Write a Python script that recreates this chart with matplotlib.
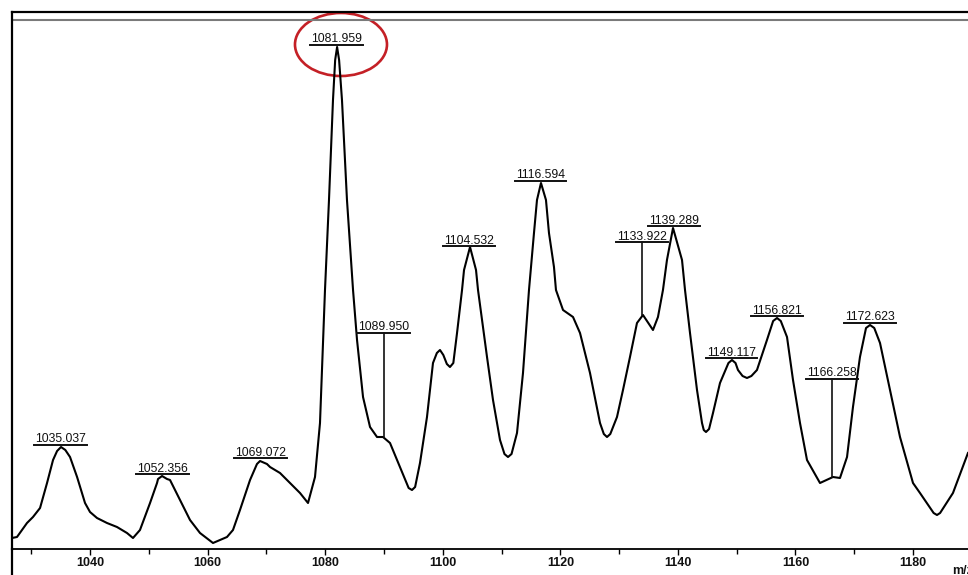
import numpy as np
import matplotlib
matplotlib.use("Agg")
import matplotlib.pyplot as plt
from matplotlib.patches import Ellipse
from matplotlib.lines import Line2D

plt.rcParams['font.family'] = ['Liberation Sans', 'DejaVu Sans']

# spectrum trace (m/z, intensity a.u.)
mz = [1026.73, 1027.58, 1029.28, 1030.30, 1031.50, 1032.69, 1033.71, 1034.40,
      1035.07, 1035.80, 1036.60, 1037.80, 1039.15, 1040.00, 1041.19, 1042.89,
      1044.59, 1046.29, 1047.31, 1048.50, 1050.21, 1051.40, 1051.57, 1052.25,
      1053.10, 1053.61, 1055.31, 1057.01, 1058.71, 1060.92, 1063.30, 1064.32,
      1065.51, 1067.22, 1068.40, 1068.92, 1070.10, 1070.62, 1072.32, 1074.02,
      1075.72, 1077.08, 1078.27, 1079.12, 1079.97, 1080.65, 1081.33, 1081.70,
      1082.03, 1082.37, 1082.86, 1083.71, 1084.74, 1085.42, 1086.44, 1087.63,
      1088.82, 1089.84, 1091.03, 1092.73, 1094.20, 1094.77, 1095.30, 1096.13,
      1097.32, 1098.34, 1099.00, 1099.53, 1100.10, 1100.70, 1101.23, 1101.80,
      1102.43, 1103.28, 1103.62, 1104.64, 1105.66, 1106.00, 1107.53, 1108.55,
      1109.74, 1110.50, 1111.10, 1111.70, 1112.63, 1113.65, 1114.67, 1115.01,
      1115.52, 1116.03, 1116.71, 1117.56, 1118.07, 1118.92, 1119.26, 1120.46,
      1122.16, 1123.35, 1125.05, 1126.75, 1127.40, 1127.94, 1128.50, 1129.64,
      1130.66, 1131.85, 1133.04, 1134.06, 1135.76, 1136.61, 1137.46, 1138.14,
      1139.17, 1140.70, 1141.21, 1142.06, 1143.25, 1144.10, 1144.40, 1144.78,
      1145.30, 1145.97, 1147.16, 1148.60, 1149.20, 1149.80, 1150.22, 1151.00,
      1151.75, 1152.50, 1153.45, 1155.15, 1156.20, 1156.86, 1157.50, 1158.56,
      1159.58, 1160.77, 1161.96, 1164.17, 1166.38, 1167.57, 1168.77, 1169.78,
      1170.97, 1172.00, 1172.68, 1173.40, 1174.38, 1176.08, 1177.78, 1179.99,
      1181.18, 1183.50, 1184.07, 1184.60, 1186.79, 1189.34]
intensity = [11, 12, 26, 32, 41, 66, 89, 98,
             102, 99, 92, 72, 46, 37, 31, 26,
             22, 16, 11, 19, 46, 66, 70, 73,
             70, 69, 49, 29, 16, 6, 12, 19,
             39, 69, 85, 88, 85, 82, 76, 66,
             56, 46, 72, 126, 259, 349, 449, 489,
             502, 489, 449, 349, 259, 209, 152, 122,
             112, 112, 106, 82, 61, 59, 62, 86,
             132, 186, 196, 199, 194, 185, 182, 186,
             216, 259, 279, 302, 279, 259, 192, 149,
             109, 95, 92, 95, 116, 176, 259, 282,
             316, 349, 366, 349, 316, 282, 259, 239,
             232, 216, 176, 126, 115, 112, 115, 132,
             159, 192, 226, 234, 219, 232, 259, 289,
             321, 289, 259, 216, 159, 126, 119, 117,
             120, 136, 166, 186, 189, 186, 179, 173,
             171, 173, 179, 209, 228, 231, 228, 212,
             169, 126, 89, 66, 72, 71, 92, 142,
             192, 221, 224, 221, 206, 159, 112, 66,
             56, 36, 34, 36, 56, 96]

# peak annotations: label, position, underline height, stem bottom (None = no stem)
peak_labels = ['1035.037', '1052.356', '1069.072', '1081.959', '1089.950', '1104.532',
               '1116.594', '1133.922', '1139.289', '1149.117', '1156.821', '1166.258',
               '1172.623']
peak_mz = [1035.037, 1052.356, 1069.072, 1081.959, 1089.950, 1104.532,
           1116.594, 1133.922, 1139.289, 1149.117, 1156.821, 1166.258, 1172.623]
label_y = [104, 75, 91, 504, 216, 303, 368, 307, 323, 191, 233, 170, 226]
stem_bottom = [None, None, None, None, 112, None, None, 234, None, None, None, 72, None]

W, H = 968, 575
fig = plt.figure(figsize=(W / 100, H / 100), dpi=100)
# axes run past the right edge, the original picture is cropped there
ax = fig.add_axes([12 / W, (H - 549) / H, (1000 - 12) / W, 537 / H])
ax.set_xlim(1026.73, 1194.79)
ax.set_ylim(0, 537)

ax.plot(mz, intensity, color='black', lw=1.5, solid_joinstyle='round')

ax.spines['right'].set_visible(False)
ax.spines['left'].set_linewidth(1.6)
ax.spines['top'].set_linewidth(1.6)
ax.spines['bottom'].set_linewidth(1.3)
ax.axhline(529, color='#7a7a7a', lw=1.5)
# left frame continues below the x axis
fig.add_artist(Line2D([12 / W, 12 / W], [0, (H - 549) / H], color='black', lw=1.6))

ax.set_yticks([])
ax.set_xticks(np.arange(1040, 1200, 20))
ax.set_xticks(np.arange(1030, 1200, 20), minor=True)
ax.tick_params(axis='x', which='major', direction='out', length=4, width=1, pad=2,
               labelsize=9)
ax.tick_params(axis='x', which='minor', direction='out', length=3.5, width=1)
for t in ax.get_xticklabels():
    t.set_fontweight('bold')
    t.set_color('#111111')

# axis title sits at the cropped right edge, as in the original
fig.text(952 / W, 1 - 571 / H, 'm/z', fontsize=9, fontweight='bold', color='#111111',
         ha='left', va='center')

texts = []
for lab, x, y in zip(peak_labels, peak_mz, label_y):
    t = ax.annotate(lab, xy=(x, y), xytext=(0, 2.5), textcoords='offset pixels',
                    ha='center', va='baseline', fontsize=8.8, color='#111111',
                    annotation_clip=False)
    texts.append(t)

fig.canvas.draw()
renderer = fig.canvas.get_renderer()
inv = ax.transData.inverted()
for t, x, y, sb in zip(texts, peak_mz, label_y, stem_bottom):
    bb = t.get_window_extent(renderer)
    x0 = inv.transform((bb.x0 - 1, 0))[0]
    x1 = inv.transform((bb.x1 + 1, 0))[0]
    ax.plot([x0, x1], [y, y], color='#111111', lw=1.4, clip_on=False)
    if sb is not None:
        ax.plot([x, x], [y, sb], color='#111111', lw=1.2)

# red ring round the base peak
ax.add_patch(Ellipse((1082.69, 504.5), 15.65, 63, fill=False, edgecolor='#c42026',
                     lw=1.9, clip_on=False))

fig.savefig('out.png', dpi=100)
